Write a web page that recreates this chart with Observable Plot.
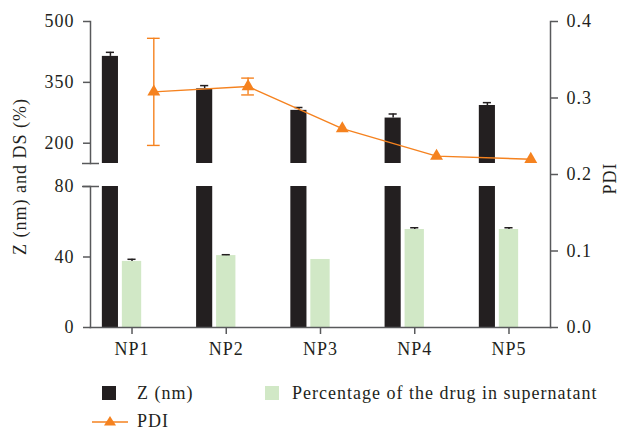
<!DOCTYPE html>
<html>
<head>
<meta charset="utf-8">
<script src="https://cdn.jsdelivr.net/npm/d3@7"></script>
<script src="https://cdn.jsdelivr.net/npm/@observablehq/plot@0.6"></script>
<style>
  body { margin: 0; background: #fff; }
  #wrap { position: relative; width: 623px; height: 430px; font-family: "Liberation Serif", "Times New Roman", serif; color: #231f20; }
  #wrap > svg { position: absolute; left: 0; top: 0; overflow: visible; }
  .leg { position: absolute; font-size: 18px; letter-spacing: 1px; line-height: 18px; white-space: nowrap; }
  .sw { position: absolute; width: 14px; height: 14px; }
</style>
</head>
<body>
<div id="wrap"></div>
<script>
// Nanoparticle formulations
const samples = ["NP1", "NP2", "NP3", "NP4", "NP5"];
// Z-average size (nm), mean and SD
const zMean = [414, 334, 281, 262, 293];
const zSd = [10, 8, 7, 10, 7];
// Percentage of the drug in supernatant (%), mean and SD
const dsMean = [37.5, 40.8, 38.6, 55.6, 55.6];
const dsSd = [1.2, 0.5, 0, 1.0, 1.0];
// Polydispersity index, mean and SD
const pdiMean = [0.308, 0.315, 0.26, 0.224, 0.22];
const pdiSd = [0.07, 0.011, 0, 0, 0];

// Axis ticks: the left axis is broken into a lower (0–80) and an upper (150–500) segment
const leftTicksUpper = [200, 350, 500];
const leftTicksLower = [0, 40, 80];
const pdiTicks = [0, 0.1, 0.2, 0.3, 0.4];

const rows = samples.map((s, i) => ({
  sample: s,
  z: zMean[i], zSd: zSd[i],
  ds: dsMean[i], dsSd: dsSd[i],
  pdi: pdiMean[i], pdiSd: pdiSd[i]
}));

const INK = "#231f20";
const AXIS = "#58595b";
const GREEN = "#d1e8c6";
const ORANGE = "#f5821f";
const W = 623, H = 360;
const ML = 90, MR = 73, MB = 33, MT = 21;
const BREAK_TOP = 163;   // pixel row of the bottom of the upper segment
const BREAK_LOW = 186;   // pixel row of the top of the lower segment

const xScale = {type: "band", domain: samples, paddingInner: 0.795, paddingOuter: 0.338, round: false};
const style = {background: "transparent", fontFamily: "'Liberation Serif', 'Times New Roman', serif", fontSize: "18px", letterSpacing: "1px", color: INK, overflow: "visible"};

// Offsets of the three series within each group (bar | bar | point)
const dxZ = -21.6, dxPdi = 21.8;

const wrap = document.getElementById("wrap");

// Upper segment of the Z axis (150–500)
const upper = Plot.plot({
  width: W, height: H, marginLeft: ML, marginRight: MR, marginTop: MT, marginBottom: H - BREAK_TOP,
  style,
  x: {...xScale, axis: null},
  y: {domain: [150, 500], axis: null},
  marks: [
    Plot.barY(rows, {x: "sample", y: "z", fill: INK, dx: dxZ, insetLeft: 1.6, insetRight: 1.6, clip: true}),
    Plot.ruleX(rows, {x: "sample", y1: "z", y2: d => d.z + d.zSd, dx: dxZ, stroke: INK, strokeWidth: 1.5}),
    Plot.tickY(rows, {x: "sample", y: d => d.z + d.zSd, dx: dxZ, insetLeft: 5.6, insetRight: 5.6, stroke: INK, strokeWidth: 1.5}),
    Plot.frame({anchor: "left", stroke: AXIS, strokeWidth: 1.5}),
    Plot.axisY({anchor: "left", ticks: leftTicksUpper, tickSize: 7, tickPadding: 9, label: null, stroke: AXIS, fill: INK, strokeWidth: 1.5}),
    Plot.axisY({anchor: "left", ticks: [150], tickSize: 17, dx: 9, tickFormat: () => "", label: null, stroke: AXIS, strokeWidth: 1.5})
  ]
});

// Lower segment of the Z axis (0–80) with the drug percentage bars
const lower = Plot.plot({
  width: W, height: H, marginLeft: ML, marginRight: MR, marginTop: BREAK_LOW, marginBottom: MB,
  style,
  x: {...xScale, axis: null},
  y: {domain: [0, 80], axis: null},
  marks: [
    Plot.barY(rows, {x: "sample", y: "z", fill: INK, dx: dxZ, insetLeft: 1.6, insetRight: 1.6, clip: true}),
    Plot.barY(rows, {x: "sample", y: "ds", fill: GREEN}),
    Plot.ruleX(rows.filter(d => d.dsSd > 0), {x: "sample", y1: "ds", y2: d => d.ds + d.dsSd, stroke: INK, strokeWidth: 1.5}),
    Plot.tickY(rows.filter(d => d.dsSd > 0), {x: "sample", y: d => d.ds + d.dsSd, insetLeft: 5.6, insetRight: 5.6, stroke: INK, strokeWidth: 1.5}),
    Plot.frame({anchor: "left", stroke: AXIS, strokeWidth: 1.5}),
    Plot.axisY({anchor: "left", ticks: leftTicksLower, tickSize: 7, tickPadding: 9, label: null, stroke: AXIS, fill: INK, strokeWidth: 1.5}),
    Plot.axisY({anchor: "left", ticks: [80], tickSize: 17, dx: 9, tickFormat: () => "", label: null, stroke: AXIS, strokeWidth: 1.5})
  ]
});

// PDI on the right axis, category axis and axis titles
const pdiErr = rows.filter(d => d.pdiSd > 0);
const main = Plot.plot({
  width: W, height: H, marginLeft: ML, marginRight: MR, marginTop: MT, marginBottom: MB,
  style,
  x: {...xScale, axis: null},
  y: {domain: [0, 0.4], axis: null},
  marks: [
    Plot.frame({anchor: "bottom", stroke: AXIS, strokeWidth: 1.5}),
    Plot.frame({anchor: "right", stroke: AXIS, strokeWidth: 1.5}),
    Plot.axisX({anchor: "bottom", tickSize: 7, tickPadding: 8, label: null, stroke: AXIS, fill: INK, strokeWidth: 1.5}),
    Plot.axisY({anchor: "right", ticks: pdiTicks, tickFormat: d3.format(".1f"), tickSize: 7, tickPadding: 9, label: null, stroke: AXIS, fill: INK, strokeWidth: 1.5}),
    Plot.line(rows, {x: "sample", y: "pdi", dx: dxPdi, stroke: ORANGE, strokeWidth: 1.4}),
    Plot.ruleX(pdiErr, {x: "sample", y1: d => d.pdi - d.pdiSd, y2: d => d.pdi + d.pdiSd, dx: dxPdi, stroke: ORANGE, strokeWidth: 1.4}),
    Plot.tickY(pdiErr, {x: "sample", y: d => d.pdi + d.pdiSd, dx: dxPdi, insetLeft: 3.3, insetRight: 3.3, stroke: ORANGE, strokeWidth: 1.4}),
    Plot.tickY(pdiErr, {x: "sample", y: d => d.pdi - d.pdiSd, dx: dxPdi, insetLeft: 3.3, insetRight: 3.3, stroke: ORANGE, strokeWidth: 1.4}),
    Plot.dot(rows, {x: "sample", y: "pdi", dx: dxPdi, symbol: "triangle", r: 4.8, fill: ORANGE}),
    Plot.text(["Z (nm) and DS (%)"], {frameAnchor: "left", textAnchor: "middle", dx: -70, dy: 2, rotate: -90, fill: INK}),
    Plot.text(["PDI"], {frameAnchor: "right", textAnchor: "middle", dx: 60, dy: 4, rotate: -90, fill: INK})
  ]
});

wrap.append(lower, upper, main);

// Legend below the chart
const legend = [
  `<div class="sw" style="left:102px;top:386px;background:${INK}"></div>`,
  `<div class="leg" style="left:137px;top:384px">Z (nm)</div>`,
  `<div class="sw" style="left:265px;top:386px;background:${GREEN}"></div>`,
  `<div class="leg" style="left:292px;top:384px">Percentage of the drug in supernatant</div>`,
  `<svg style="position:absolute;left:90px;top:413px" width="40" height="16"><line x1="2" x2="38" y1="9" y2="9" stroke="${ORANGE}" stroke-width="1.4"/><path d="M20,3 L26,12.5 L14,12.5 Z" fill="${ORANGE}"/></svg>`,
  `<div class="leg" style="left:137px;top:412px">PDI</div>`
].join("");
wrap.insertAdjacentHTML("beforeend", legend);
</script>
</body>
</html>
